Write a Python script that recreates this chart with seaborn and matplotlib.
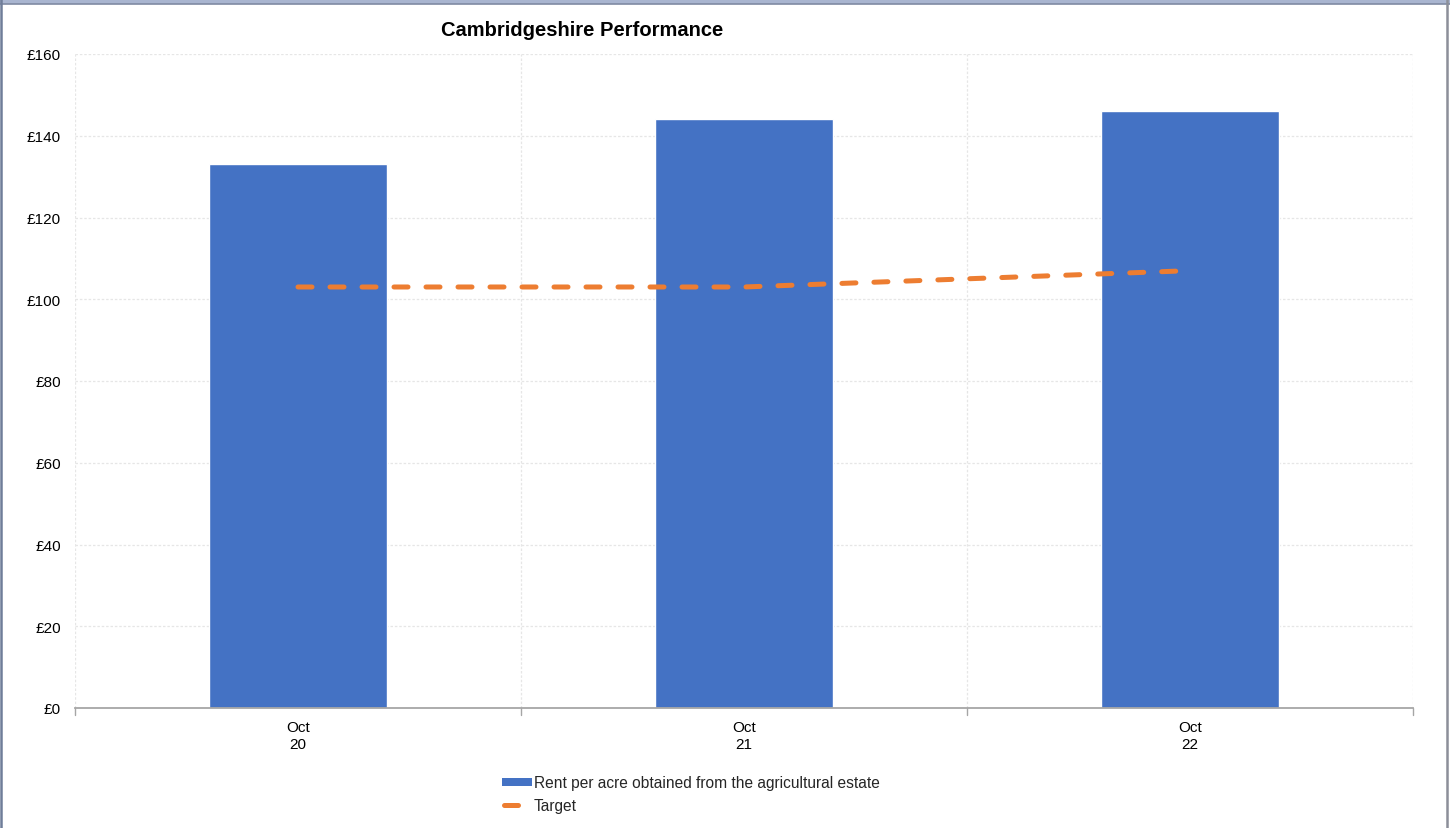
import matplotlib
matplotlib.use("Agg")
import matplotlib.pyplot as plt
from matplotlib.lines import Line2D
from matplotlib.patches import Patch, Rectangle
import seaborn as sns
import pandas as pd
import numpy as np

# Data
periods = ["Oct\n20", "Oct\n21", "Oct\n22"]
rent_per_acre = [133, 144, 146]
target = [103, 103, 107]
y_ticks = [0, 20, 40, 60, 80, 100, 120, 140, 160]
y_tick_labels = ["£0", "£20", "£40", "£60", "£80", "£100", "£120", "£140", "£160"]

bar_label = "Rent per acre obtained from the agricultural estate"
line_label = "Target"
title = "Cambridgeshire Performance"

BAR_BLUE = "#4472C4"
TARGET_ORANGE = "#ED7D31"
GRID = "#e6e6e6"

sns.set_theme(style="white")
plt.rcParams["font.family"] = ["Liberation Sans", "DejaVu Sans"]

fig = plt.figure(figsize=(14.5, 8.29), dpi=100)
fig.patch.set_facecolor("white")
ax = fig.add_axes([75 / 1450, 1 - 709 / 829, (1413 - 75) / 1450, (709 - 55) / 829])

df = pd.DataFrame({"period": periods, "rent": rent_per_acre})
sns.barplot(data=df, x="period", y="rent", color=BAR_BLUE, width=0.4,
            saturation=1, ax=ax, zorder=2)

positions = np.arange(len(periods))
sns.lineplot(x=positions, y=target, ax=ax, color=TARGET_ORANGE, lw=3.6,
             zorder=3)
tline = ax.lines[-1]
tline.set_dashes((2.8, 3.6))
tline.set_dash_capstyle("round")

ax.set_xlim(-0.5, len(periods) - 0.5)
ax.set_ylim(0, 160)
ax.set_yticks(y_ticks)
ax.set_yticklabels(y_tick_labels, fontsize=11, color="black")
ax.set_xticks(positions)
ax.set_xticklabels(periods, fontsize=11, color="black", linespacing=1.2)
ax.set_xlabel("")
ax.set_ylabel("")
ax.tick_params(axis="y", length=0, pad=10)
ax.tick_params(axis="x", length=0, pad=9)

# Light dotted gridlines, vertical ones between categories
for y in y_ticks[1:]:
    ax.axhline(y, color=GRID, lw=0.9, ls=(0, (2, 1.5)), zorder=0)
for xb in np.arange(len(periods) + 1) - 0.5:
    ax.axvline(xb, color=GRID, lw=0.9, ls=(0, (2, 1.5)), zorder=0)
    ax.plot([xb, xb], [0, -1.6], color="#a6a6a6", lw=1, clip_on=False, zorder=4)

for side in ["top", "right", "left"]:
    ax.spines[side].set_visible(False)
ax.spines["bottom"].set_color("#a6a6a6")
ax.spines["bottom"].set_linewidth(1.3)
ax.spines["bottom"].set_zorder(4)

fig.text(582 / 1450, 1 - 31 / 829, title, ha="center", va="center",
         fontsize=14.5, fontweight="bold", color="black")

handles = [Patch(facecolor=BAR_BLUE, edgecolor="none"),
           Line2D([0], [0], color=TARGET_ORANGE, lw=3.6, solid_capstyle="round")]
leg = fig.legend(handles, [bar_label, line_label], loc="upper left",
                 bbox_to_anchor=(496 / 1450, 1 - 770 / 829), frameon=False,
                 fontsize=11.2, handlelength=1.9, handleheight=0.45,
                 handletextpad=0.12, labelspacing=0.5, borderaxespad=0)
# Shorter dash for the target key
key_line = leg.legend_handles[1]
xd = np.asarray(key_line.get_xdata(), dtype=float)
yd = np.asarray(key_line.get_ydata(), dtype=float)
span = xd.max() - xd.min()
key_line.set_data([xd.min() + 0.05 * span, xd.min() + 0.55 * span], [yd[0], yd[0]])

# Window frame around the chart
fig.patches.append(Rectangle((0, 1 - 5 / 829), 1, 5 / 829, transform=fig.transFigure,
                             facecolor="#a9b5d0", edgecolor="none", zorder=10))
fig.lines.append(Line2D([0, 1], [1 - 5 / 829] * 2, transform=fig.transFigure,
                        color="#7f8aa3", lw=1.2, zorder=11))
fig.lines.append(Line2D([1 / 1450] * 2, [0, 1], transform=fig.transFigure,
                        color="#6f7d99", lw=1.8, zorder=11))
fig.lines.append(Line2D([1447 / 1450] * 2, [0, 1], transform=fig.transFigure,
                        color="#8c8f99", lw=1.8, zorder=11))

fig.savefig("out.png", dpi=100, facecolor="white")
